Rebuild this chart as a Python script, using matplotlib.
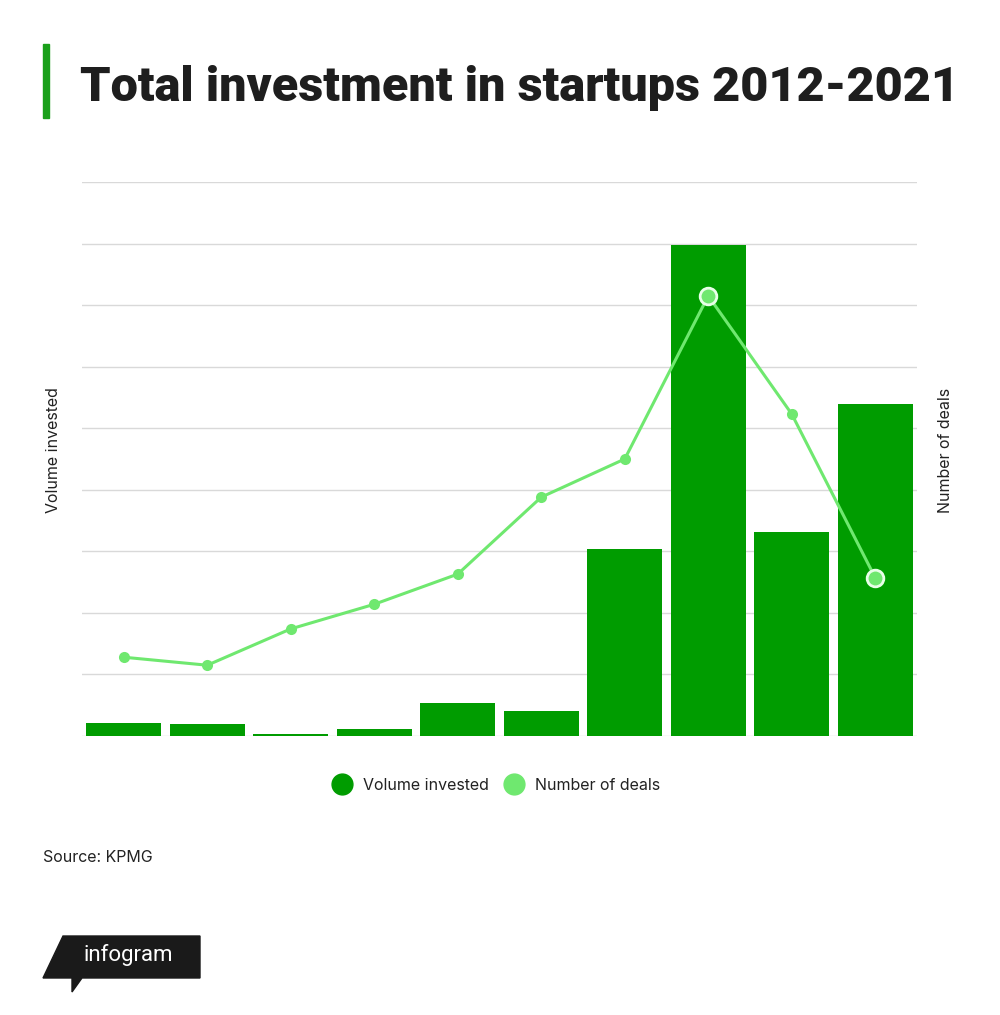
import matplotlib
matplotlib.use("Agg")
import matplotlib.pyplot as plt
from matplotlib.patches import Polygon, Rectangle
from matplotlib.lines import Line2D

years = ["2012", "2013", "2014", "2015", "2016", "2017", "2018", "2019", "2020", "2021"]
volume_invested = [21, 19, 3, 11, 54, 41, 304, 798, 332, 540]
number_of_deals = [128, 115, 174, 214, 263, 388, 450, 715, 523, 257]
highlighted = [7, 9]

BAR = "#009c00"
LINE = "#6fe86f"
GRID = "#d9d9d9"
TXT = "#222222"

plt.rcParams['font.family'] = ['Inter', 'DejaVu Sans']

fig = plt.figure(figsize=(10, 10.15), dpi=100)
W, H = 1000, 1015
def fx(px): return px / W
def fy(py): return 1 - py / H

ax = fig.add_axes([fx(82), fy(736), fx(917) - fx(82), fy(182) - fy(736)])
ax2 = ax.twinx()

x = list(range(len(years)))
ax.set_xlim(-0.5, len(years) - 0.5)
ax.set_ylim(0, 900)
ax2.set_ylim(0, 900)
ax.set_yticks(range(0, 901, 100))
ax.yaxis.grid(True, color=GRID, linewidth=1)
ax.set_axisbelow(True)
ax.bar(x, volume_invested, width=0.9, color=BAR, zorder=2)

ax2.plot(x, number_of_deals, color=LINE, linewidth=2.2, zorder=3)
normal = [i for i in x if i not in highlighted]
ax2.plot(normal, [number_of_deals[i] for i in normal], 'o', color=LINE,
         markersize=8, markeredgewidth=0, zorder=4)
ax2.plot(highlighted, [number_of_deals[i] for i in highlighted], 'o', color=LINE,
         markersize=12, markeredgecolor="#e8ffe8", markeredgewidth=2, zorder=5)

for a in (ax, ax2):
    for s in a.spines.values():
        s.set_visible(False)
    a.tick_params(left=False, right=False, bottom=False, labelleft=False,
                  labelright=False, labelbottom=False)
ax2.set_yticks([])

# axis titles
fig.text(fx(53), fy(450), "Volume invested", rotation=90, ha="center", va="center",
         fontsize=11.5, color=TXT)
fig.text(fx(945), fy(450), "Number of deals", rotation=90, ha="center", va="center",
         fontsize=11.5, color=TXT)

# Title
fig.add_artist(Rectangle((fx(43), fy(118)), fx(6), fy(44) - fy(118), color="#1aa01a",
                         transform=fig.transFigure))
fig.text(fx(80), fy(88), "Total investment in startups 2012-2021", fontsize=35,
         fontweight="heavy", color="#1e1e1e", ha="left", va="center",
         family=['Roboto', 'DejaVu Sans'])

# legend
handles = [Line2D([], [], marker='o', linestyle='', markersize=15, color=BAR, label="Volume invested"),
           Line2D([], [], marker='o', linestyle='', markersize=15, color=LINE, label="Number of deals")]
fig.legend(handles=handles, loc="center", bbox_to_anchor=(fx(493), fy(785)), ncol=2,
           frameon=False, fontsize=11.5, handletextpad=0.3, columnspacing=0.6,
           labelcolor=TXT)

fig.text(fx(43), fy(857), "Source: KPMG", fontsize=11.5, color=TXT, ha="left", va="center")

# infogram logo
poly = Polygon([(fx(63), fy(936)), (fx(200), fy(936)), (fx(200), fy(978)),
                (fx(82), fy(978)), (fx(72), fy(992)), (fx(72), fy(978)), (fx(43), fy(978))],
               closed=True, color="#1a1a1a", transform=fig.transFigure)
fig.add_artist(poly)
fig.text(fx(128), fy(955), "infogram", fontsize=16, color="white", ha="center", va="center",
         family=['Roboto', 'DejaVu Sans'])

fig.savefig("out.png", dpi=100, facecolor="white")
